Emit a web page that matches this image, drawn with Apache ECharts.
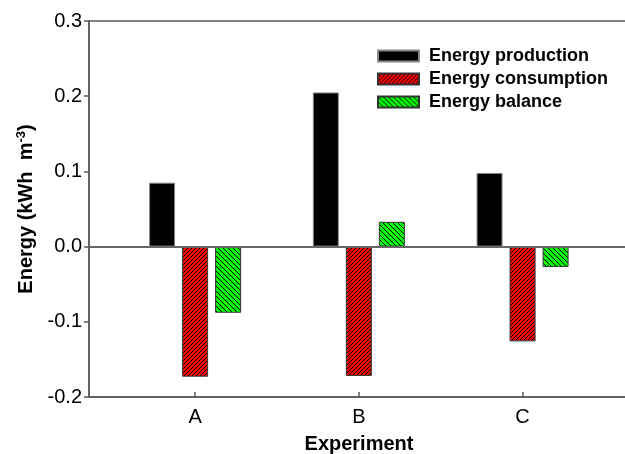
<!DOCTYPE html>
<html>
<head>
<meta charset="utf-8">
<script src="https://cdn.jsdelivr.net/npm/echarts@6/dist/echarts.min.js"></script>
<style>
html,body{margin:0;padding:0;background:#fff;}
#chart{width:625px;height:454px;}
</style>
</head>
<body>
<div id="chart"></div>
<script>
var categories = ['A', 'B', 'C'];
var seriesNames = ['Energy production', 'Energy consumption', 'Energy balance'];
var production = [0.085, 0.205, 0.098];
var consumption = [-0.173, -0.172, -0.126];
var balance = [-0.088, 0.033, -0.027];
var yTicks = [-0.2, -0.1, 0.0, 0.1, 0.2, 0.3];

function hatch(bg, dir, n) {
  var c = document.createElement('canvas');
  c.width = n; c.height = n;
  var g = c.getContext('2d');
  g.fillStyle = bg; g.fillRect(0, 0, n, n);
  g.fillStyle = '#000';
  for (var i = 0; i < n; i++) {
    var y = dir > 0 ? (n - 1 - i) : i;
    g.fillRect(i, y, 1, 1);
  }
  return {image: c, repeat: 'repeat'};
}

function toPoints(arr) {
  return arr.map(function (v, i) { return [i + 1, v]; });
}

var font = 'Liberation Sans, Arial, sans-serif';
var axisColor = '#5a5a5a';
var chart = echarts.init(document.getElementById('chart'), null, {renderer: 'canvas'});
var tickVals = categories.map(function (c, i) { return i + 1; });

chart.setOption({
  animation: false,
  backgroundColor: '#fff',
  grid: {left: 89, top: 21, width: 540, height: 376, outerBoundsMode: 'none', containLabel: false,
    show: true, borderColor: axisColor, borderWidth: 1.5, backgroundColor: 'transparent'},
  legend: {
    orient: 'vertical', left: 377, top: 47, padding: 0, itemWidth: 41, itemHeight: 11, itemGap: 5,
    icon: 'rect',
    textStyle: {fontFamily: font, fontWeight: 'bold', fontSize: 18, color: '#000', lineHeight: 18, padding: [0, 0, 0, 5]},
    data: seriesNames
  },
  xAxis: {
    type: 'value', min: 0.352, max: 3.65,
    name: 'Experiment', nameLocation: 'middle', nameGap: 37,
    nameTextStyle: {fontFamily: font, fontWeight: 'bold', fontSize: 20, color: '#000'},
    axisLine: {show: true, onZero: false, lineStyle: {color: axisColor, width: 1.5}},
    axisTick: {show: true, inside: true, length: 5, customValues: tickVals, lineStyle: {color: axisColor, width: 1.5}},
    axisLabel: {customValues: tickVals, margin: 10, fontFamily: font, fontSize: 20, color: '#000',
      formatter: function (v) { return categories[Math.round(v) - 1] || ''; }},
    splitLine: {show: false}
  },
  yAxis: {
    type: 'value', min: -0.2, max: 0.3, interval: 0.1,
    name: '{a|Energy (kWh  m}{s|-3}{a|)}', nameLocation: 'middle', nameGap: 51,
    nameTextStyle: {
      rich: {
        a: {fontFamily: font, fontWeight: 'bold', fontSize: 20, color: '#000'},
        s: {fontFamily: font, fontWeight: 'bold', fontSize: 13, color: '#000', verticalAlign: 'top', padding: [0, 0, 10, 0]}
      }
    },
    axisLine: {show: true, onZero: false, lineStyle: {color: axisColor, width: 1.5}},
    axisTick: {show: true, length: 5, lineStyle: {color: axisColor, width: 1.5}},
    axisLabel: {margin: 7, fontFamily: font, fontSize: 20, color: '#000',
      formatter: function (v) { return v.toFixed(1); }},
    splitLine: {show: false}
  },
  series: [
    {
      name: seriesNames[0], type: 'bar', data: toPoints(production), barWidth: 26, barGap: '27%',
      itemStyle: {color: '#000', borderColor: '#888', borderWidth: 1},
      markLine: {silent: true, symbol: 'none', label: {show: false},
        lineStyle: {color: '#666', width: 2, type: 'solid'}, data: [{yAxis: 0}]},
      z: 2
    },
    {
      name: seriesNames[1], type: 'bar', data: toPoints(consumption), barWidth: 26, barGap: '27%',
      itemStyle: {color: hatch('#ff0000', 1, 4), borderColor: '#333', borderWidth: 1}
    },
    {
      name: seriesNames[2], type: 'bar', data: toPoints(balance), barWidth: 26, barGap: '27%',
      itemStyle: {color: hatch('#00ff00', -1, 5), borderColor: '#333', borderWidth: 1}
    }
  ]
});
</script>
</body>
</html>
